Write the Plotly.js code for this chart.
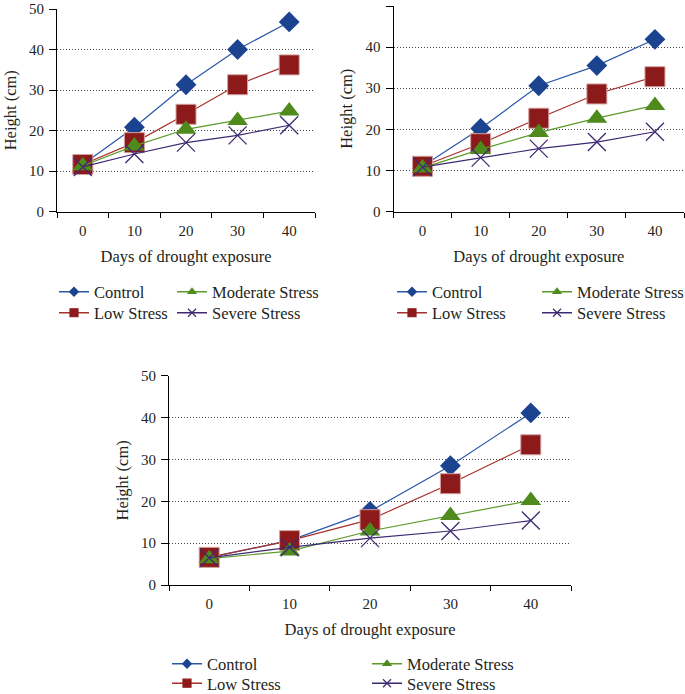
<!DOCTYPE html>
<html>
<head>
<meta charset="utf-8">
<script src="https://cdn.plot.ly/plotly-3.0.1.min.js"></script>
<style>html,body{margin:0;padding:0;background:#fff;}#chart{width:685px;height:694px;}</style>
</head>
<body>
<div id="chart"></div>
<script>
// ---- data ----
var days = ['0', '10', '20', '30', '40'];
var seriesNames = ['Control', 'Low Stress', 'Moderate Stress', 'Severe Stress'];

// top-left panel
var controlA  = [11.6, 20.8, 31.3, 40.0, 46.8];
var lowA      = [11.6, 17.0, 24.0, 31.3, 36.2];
var moderateA = [11.3, 16.2, 20.3, 22.5, 24.8];
var severeA   = [11.0, 14.2, 17.0, 18.8, 21.3];

// top-right panel
var controlB  = [11.0, 20.2, 30.6, 35.5, 41.9];
var lowB      = [11.0, 16.5, 22.7, 28.6, 32.8];
var moderateB = [10.6, 15.1, 19.2, 22.7, 25.8];
var severeB   = [10.8, 13.1, 15.3, 16.9, 19.4];

// bottom panel
var controlC  = [6.6, 10.6, 17.6, 28.5, 41.1];
var lowC      = [6.6, 10.6, 15.6, 24.2, 33.5];
var moderateC = [6.3, 8.1, 12.9, 16.6, 20.2];
var severeC   = [6.5, 9.0, 11.2, 12.9, 15.4];

var yTicks = [0, 10, 20, 30, 40, 50];

// ---- styles ----
var FONT = '"Liberation Serif", "Times New Roman", serif';
var TXT = '#231f20';
var styles = [
  {color: '#1c438f', line: '#2a58a8', symbol: 'diamond', size: 16, lsize: 8, mline: {width: 0}},
  {color: '#8c1a1a', line: '#a8302c', symbol: 'square', size: 20, lsize: 8, mline: {width: 1, color: '#d4a0a0'}},
  {color: '#4f8a1c', line: '#5c9a2a', symbol: 'triangle-up', size: 18, lsize: 9, mline: {width: 0}},
  {color: '#3e2a72', line: '#3e2a72', symbol: 'x-thin', size: 18, lsize: 8, mline: {width: 1.3, color: '#3e2a72'}}
];

var panels = [
  {x: 'x',  y: 'y',  data: [controlA, lowA, moderateA, severeA],
   leg: [[94, 292], [94, 313], [212, 292], [212, 313]]},
  {x: 'x2', y: 'y2', data: [controlB, lowB, moderateB, severeB],
   leg: [[432, 292], [432, 313], [577, 292], [577, 313]]},
  {x: 'x3', y: 'y3', data: [controlC, lowC, moderateC, severeC],
   leg: [[207, 664], [207, 683.5], [407, 664], [407, 683.5]]}
];

var W = 685, H = 694;
var traces = [];
var layout = {
  width: W, height: H,
  margin: {l: 0, r: 0, t: 0, b: 0, autoexpand: false},
  paper_bgcolor: '#fff', plot_bgcolor: '#fff',
  font: {family: FONT, size: 16, color: TXT},
  showlegend: true
};

var legendIdx = 1;
panels.forEach(function (p) {
  p.data.forEach(function (vals, i) {
    var s = styles[i];
    traces.push({
      type: 'scatter', mode: 'lines+markers',
      x: days, y: vals, xaxis: p.x, yaxis: p.y,
      name: seriesNames[i], showlegend: false,
      line: {color: s.line, width: 1.2},
      marker: {symbol: s.symbol, size: s.size, color: s.color, line: s.mline},
      hoverinfo: 'skip'
    });
  });
  // legend entries (one small-symbol entry per series)
  p.data.forEach(function (vals, i) {
    var s = styles[i];
    var key = legendIdx === 1 ? 'legend' : 'legend' + legendIdx;
    traces.push({
      type: 'scatter', mode: 'lines+markers',
      x: [null], y: [null], xaxis: p.x, yaxis: p.y,
      name: seriesNames[i], showlegend: true, legend: key,
      line: {color: s.line, width: 1.5},
      marker: {symbol: s.symbol, size: s.lsize, color: s.color, line: s.mline.width ? {width: 1.2, color: s.color} : {width: 0}}
    });
    layout[key] = {
      x: (p.leg[i][0] - 40) / W, xanchor: 'left',
      y: 1 - p.leg[i][1] / H, yanchor: 'middle',
      bgcolor: 'rgba(0,0,0,0)', borderwidth: 0,
      font: {family: FONT, size: 16.5, color: TXT},
      itemclick: false, itemdoubleclick: false
    };
    legendIdx++;
  });
});

function xaxis(domain, anchor) {
  return {
    domain: domain, anchor: anchor, type: 'category',
    range: [-0.5, 4.5], categoryorder: 'array', categoryarray: days,
    showline: true, linecolor: '#000', linewidth: 1,
    ticks: 'outside', tickson: 'boundaries', ticklen: 5, tickcolor: '#000', tickwidth: 1,
    ticklabelstandoff: 5,
    showgrid: false, zeroline: false,
    tickfont: {family: FONT, size: 15, color: TXT},
    title: {text: 'Days of drought exposure', font: {family: FONT, size: 16.5, color: TXT}, standoff: 12},
    automargin: false, fixedrange: true
  };
}
function yaxis(domain, anchor) {
  return {
    domain: domain, anchor: anchor,
    range: [0, 50], tickvals: yTicks,
    showline: true, linecolor: '#000', linewidth: 1,
    ticks: 'outside', ticklen: 7, tickcolor: '#000', tickwidth: 1,
    ticklabelstandoff: 2,
    showgrid: true, gridcolor: '#444', griddash: '1px,2px', gridwidth: 1,
    zeroline: false,
    tickfont: {family: FONT, size: 15, color: TXT},
    title: {text: 'Height (cm)', font: {family: FONT, size: 16.5, color: TXT}, standoff: 8},
    automargin: false, fixedrange: true
  };
}

layout.xaxis  = xaxis([57 / W, 315 / W], 'y');
layout.yaxis  = yaxis([1 - 211.5 / H, 1 - 9 / H], 'x');
layout.xaxis2 = xaxis([393.5 / W, 684 / W], 'y2');
layout.yaxis2 = yaxis([1 - 211.5 / H, 1 - 6 / H], 'x2');
layout.xaxis3 = xaxis([169 / W, 571 / W], 'y3');
layout.yaxis3 = yaxis([1 - 585 / H, 1 - 375.7 / H], 'x3');

Plotly.newPlot('chart', traces, layout, {staticPlot: true, displayModeBar: false});
</script>
</body>
</html>
